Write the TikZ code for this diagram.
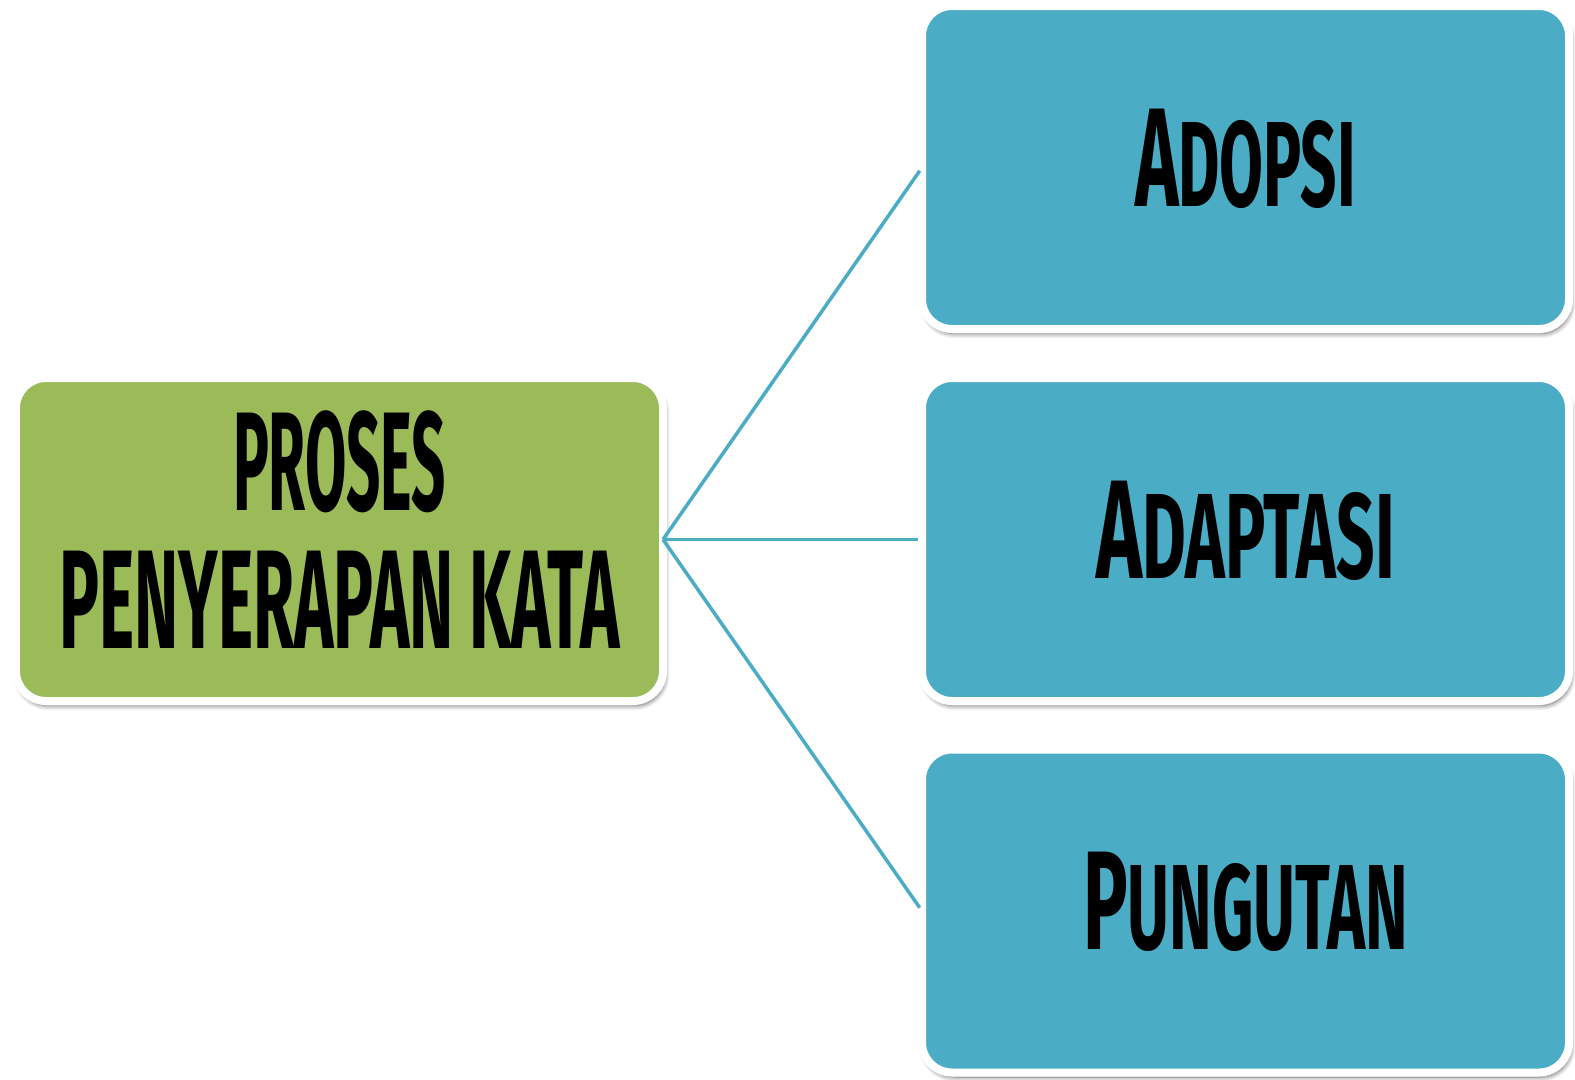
\documentclass[tikz,border=0pt]{standalone}
\usepackage{fontspec}
\setmainfont{Fira Sans}
\usepackage{graphicx}
\usetikzlibrary{shadows.blur}

\definecolor{kotakhijau}{HTML}{9BBB59}
\definecolor{kotakbiru}{HTML}{4BACC6}

% squeeze a line to a given width, keeping its height
\newcommand{\sempit}[2]{\resizebox{#1}{\height}{#2}}
\newcommand{\besar}{\fontsize{80}{80}\selectfont}
\newcommand{\kecil}{\fontsize{69}{80}\selectfont}

\begin{document}
\begin{tikzpicture}[>=latex]
    \tikzstyle{every node}=[font=\bfseries\besar]
    \tikzstyle{kotak}=[draw=white,line width=0.16cm,rounded corners=0.6cm,
        minimum width=12.94cm,minimum height=6.46cm,inner sep=0pt,outer sep=0pt,
        align=center,text depth=0.4cm,
        blur shadow={shadow xshift=0.04cm,shadow yshift=-0.09cm,
            shadow blur steps=8,shadow blur radius=0.1cm,
            shadow blur extra rounding=0.1cm,shadow opacity=60}]
    \tikzstyle{garis}=[draw=kotakbiru,line width=0.07cm,shorten >=0.08cm]

    \useasboundingbox (0,0) rectangle (31.5,-21.58);

    \node[kotak,fill=kotakhijau] (proses) at (6.79,-10.79)
    {\sempit{4.26cm}{PROSES}\\[-0.05cm] \sempit{11.2cm}{PENYERAPAN KATA}};

    \node[kotak,fill=kotakbiru] (adopsi) at (24.91,-3.35)
    {\sempit{4.42cm}{A{\kecil DOPSI}}};

    \node[kotak,fill=kotakbiru] (adaptasi) at (24.91,-10.79)
    {\sempit{5.97cm}{A{\kecil DAPTASI}}};

    \node[kotak,fill=kotakbiru] (pungutan) at (24.91,-18.22)
    {\sempit{6.49cm}{P{\kecil UNGUTAN}}};

    \draw[garis] (proses.east) -- (adopsi.west);
    \draw[garis] (proses.east) -- (adaptasi.west);
    \draw[garis] (proses.east) -- (pungutan.west);
\end{tikzpicture}
\end{document}
